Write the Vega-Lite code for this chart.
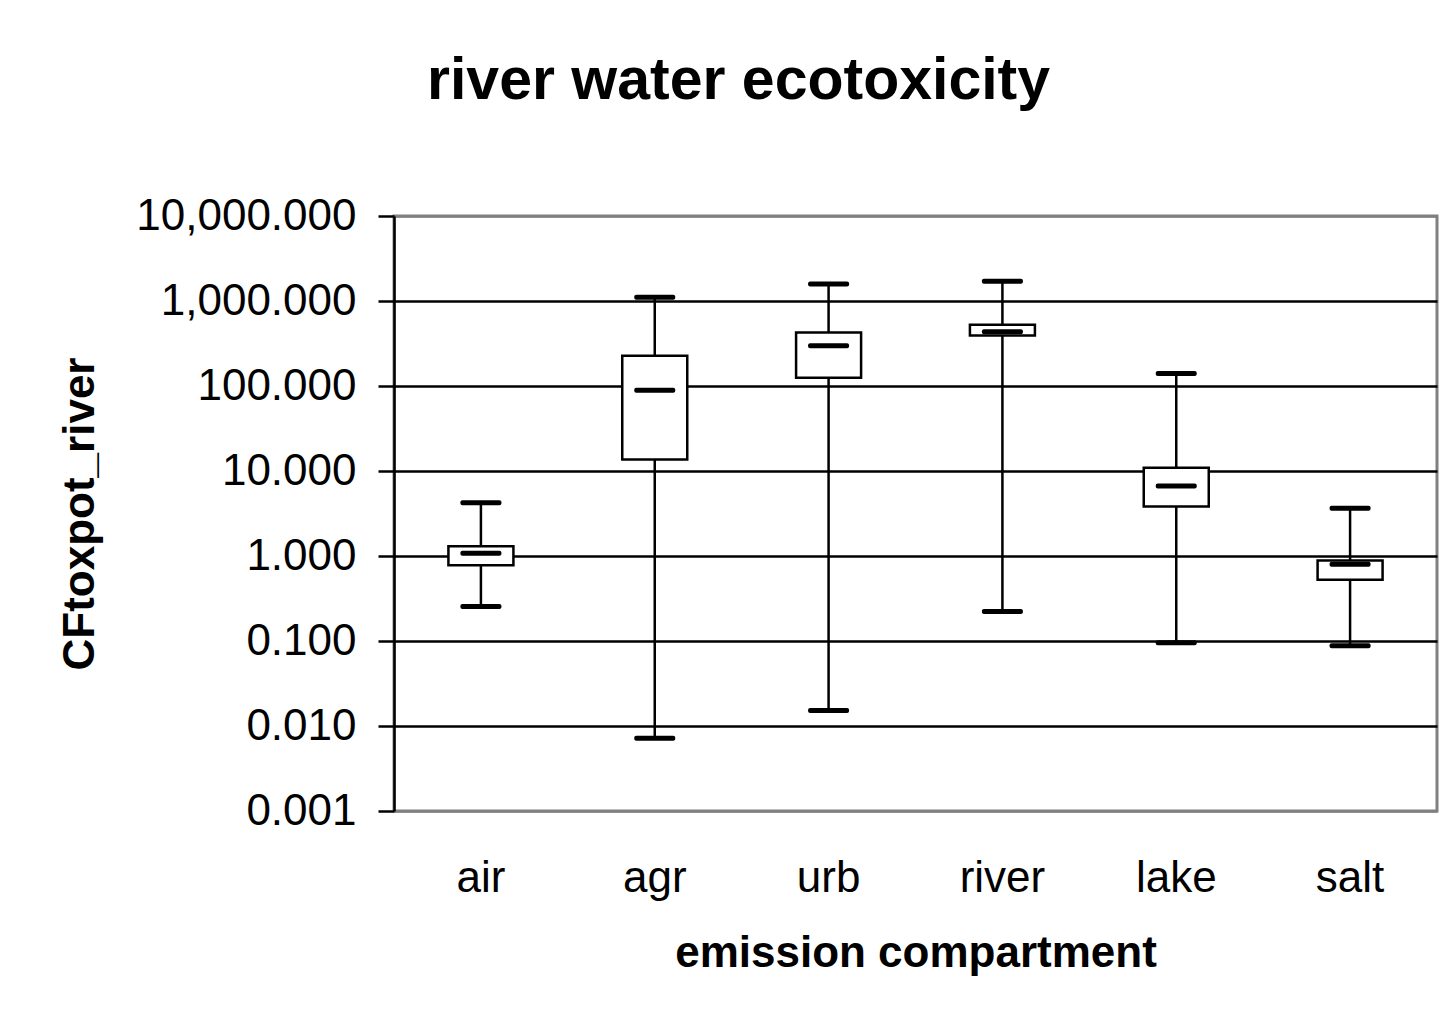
{
  "$schema": "https://vega.github.io/schema/vega-lite/v6.json",
  "width": 1043,
  "height": 595,
  "autosize": {"type": "none"},
  "padding": {"left": 394, "top": 216, "right": 14, "bottom": 208},
  "background": "white",
  "title": {
    "text": "river water ecotoxicity",
    "font": "Liberation Sans",
    "fontSize": 59,
    "fontWeight": "bold",
    "color": "black",
    "anchor": "middle",
    "frame": "group",
    "dx": -177,
    "baseline": "alphabetic",
    "offset": 36
  },
  "data": {
    "values": [
      {"compartment": "air", "min": 0.255, "q1": 0.776, "median": 1.08, "q3": 1.30, "max": 4.22},
      {"compartment": "agr", "min": 0.0072, "q1": 13.7, "median": 89, "q3": 227, "max": 1105},
      {"compartment": "urb", "min": 0.0152, "q1": 125, "median": 298, "q3": 426, "max": 1585},
      {"compartment": "river", "min": 0.222, "q1": 393, "median": 434, "q3": 525, "max": 1702},
      {"compartment": "lake", "min": 0.0955, "q1": 3.81, "median": 6.67, "q3": 10.9, "max": 140},
      {"compartment": "salt", "min": 0.088, "q1": 0.527, "median": 0.798, "q3": 0.888, "max": 3.65}
    ]
  },
  "encoding": {
    "x": {
      "field": "compartment",
      "type": "nominal",
      "sort": null,
      "scale": {"paddingInner": 0, "paddingOuter": 0},
      "axis": {
        "title": "emission compartment",
        "labelAngle": 0,
        "ticks": false,
        "domain": false,
        "grid": false,
        "labelFont": "Liberation Sans",
        "labelFontSize": 44,
        "labelColor": "black",
        "labelPadding": 45,
        "titleFont": "Liberation Sans",
        "titleFontSize": 44,
        "titleFontWeight": "bold",
        "titleColor": "black",
        "titlePadding": 31
      }
    }
  },
  "layer": [
    {
      "mark": {"type": "rule", "color": "black", "strokeWidth": 2.5},
      "encoding": {
        "y": {
          "field": "min",
          "type": "quantitative",
          "title": "CFtoxpot_river",
          "scale": {"type": "log", "domain": [0.001, 10000], "nice": false},
          "axis": {
            "values": [0.001, 0.01, 0.1, 1, 10, 100, 1000, 10000],
            "format": ",.3f",
            "tickSize": 16,
            "tickWidth": 2.5,
            "tickColor": "black",
            "domainColor": "black",
            "domainWidth": 2.5,
            "grid": true,
            "gridColor": {"condition": {"test": "datum.value <= 0.0011 || datum.value >= 9999", "value": "#808080"}, "value": "black"},
            "gridWidth": 2.5,
            "gridOpacity": 1,
            "labelFont": "Liberation Sans",
            "labelFontSize": 44,
            "labelLimit": 0,
            "labelColor": "black",
            "labelPadding": 22,
            "titleFont": "Liberation Sans",
            "titleFontSize": 44,
            "titleFontWeight": "bold",
            "titleColor": "black",
            "titlePadding": 92
          }
        },
        "y2": {"field": "max"}
      }
    },
    {
      "mark": {"type": "bar", "fill": "white", "stroke": "black", "strokeWidth": 2.5, "width": 65},
      "encoding": {
        "y": {"field": "q1", "type": "quantitative", "title": "CFtoxpot_river"},
        "y2": {"field": "q3"}
      }
    },
    {
      "mark": {"type": "tick", "fill": "black", "opacity": 1, "size": 41, "thickness": 5, "cornerRadius": 2},
      "encoding": {
        "y": {"field": "min", "type": "quantitative", "title": "CFtoxpot_river"}
      }
    },
    {
      "mark": {"type": "tick", "fill": "black", "opacity": 1, "size": 41, "thickness": 5, "cornerRadius": 2},
      "encoding": {
        "y": {"field": "max", "type": "quantitative", "title": "CFtoxpot_river"}
      }
    },
    {
      "mark": {"type": "tick", "fill": "black", "opacity": 1, "size": 41, "thickness": 5, "cornerRadius": 2},
      "encoding": {
        "y": {"field": "median", "type": "quantitative", "title": "CFtoxpot_river"}
      }
    }
  ],
  "config": {
    "font": "Liberation Sans",
    "view": {"stroke": "#808080", "strokeWidth": 3}
  }
}
